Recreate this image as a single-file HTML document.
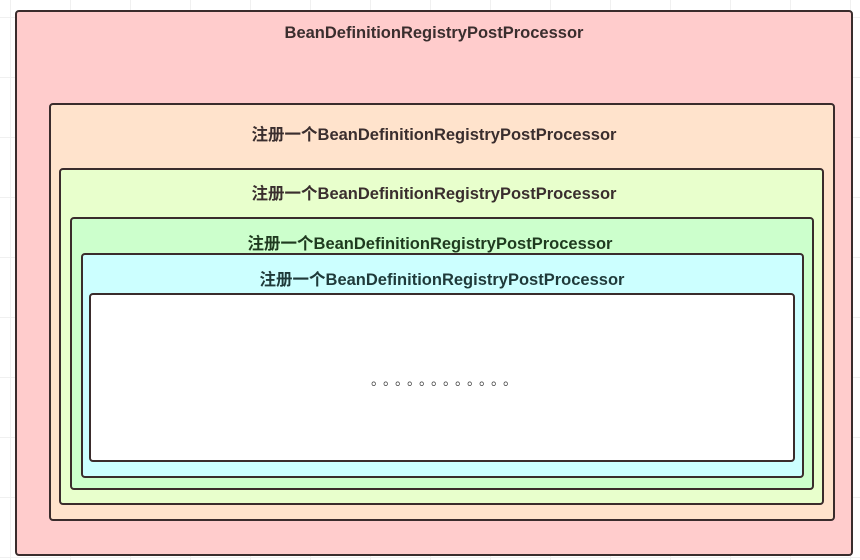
<!DOCTYPE html>
<html><head><meta charset="utf-8"><style>
html,body{margin:0;padding:0}
body{width:860px;height:560px;position:relative;overflow:hidden;background:#fff;
background-image:linear-gradient(#f0f0f0 1px,transparent 1px),linear-gradient(90deg,#f0f0f0 1px,transparent 1px);background-size:60px 60px;background-position:10px 17px;
font-family:"Liberation Sans","Noto Sans CJK SC",sans-serif}
.b{position:absolute;box-sizing:border-box;border:2px solid #3a2c2c;border-radius:4px}
.t{position:absolute;left:0;width:100%;text-align:center;font-weight:bold;font-size:16.5px;color:#3a2e2e;white-space:nowrap}
</style></head><body>
<div class="b" style="left:15px;top:10px;width:838px;height:546px;background:#ffcccc"></div>
<div class="t" style="top:24px;left:4px">BeanDefinitionRegistryPostProcessor</div>
<div class="b" style="left:49px;top:103px;width:786px;height:418px;background:#ffe3cc"></div>
<div class="t" style="top:121px;left:4px">注册一个BeanDefinitionRegistryPostProcessor</div>
<div class="b" style="left:59px;top:168px;width:765px;height:337px;background:#e8ffcc"></div>
<div class="t" style="top:180px;left:4px">注册一个BeanDefinitionRegistryPostProcessor</div>
<div class="b" style="left:70px;top:217px;width:744px;height:273px;background:#ccffcc"></div>
<div class="t" style="top:230px;left:0px;color:#1f3a1f">注册一个BeanDefinitionRegistryPostProcessor</div>
<div class="b" style="left:81px;top:253px;width:723px;height:225px;background:#ccffff"></div>
<div class="t" style="top:266px;left:12px;color:#1f3a3a">注册一个BeanDefinitionRegistryPostProcessor</div>
<div class="b" style="left:89px;top:293px;width:706px;height:169px;background:#fff"></div>
<div style="position:absolute;left:371px;top:370px;font-size:14px;color:#444;letter-spacing:5px;white-space:nowrap">。。。。。。。。。。。。</div>
</body></html>
